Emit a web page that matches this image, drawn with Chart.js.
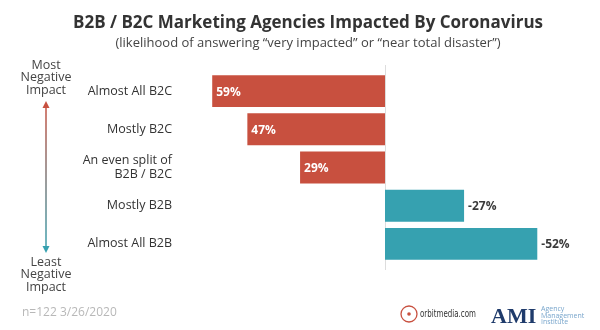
<!DOCTYPE html>
<html>
<head>
<meta charset="utf-8">
<script src="https://cdn.jsdelivr.net/npm/chart.js@4.4.1/dist/chart.umd.min.js"></script>
<style>
  html, body { margin: 0; padding: 0; background: #ffffff; }
  #wrap { width: 600px; height: 330px; }
</style>
</head>
<body>
<div id="wrap"><canvas id="chart" width="600" height="330"></canvas></div>
<script>
// Agency mix categories, top (most negative) to bottom (least negative)
const categories = [
  'Almost All B2C',
  'Mostly B2C',
  ['An even split of', 'B2B / B2C'],
  'Mostly B2B',
  'Almost All B2B'
];
// Share answering "very impacted" or "near total disaster", relative score
const impactValues = [59, 47, 29, -27, -52];

const titleText = 'B2B / B2C Marketing Agencies Impacted By Coronavirus';
const subtitleText = '(likelihood of answering \u201cvery impacted\u201d or \u201cnear total disaster\u201d)';
const topNote = ['Most', 'Negative', 'Impact'];
const bottomNote = ['Least', 'Negative', 'Impact'];
const footnote = 'n=122 3/26/2020';

const RED = '#c8503f';
const TEAL = '#36a1b0';
const FONT = '"Open Sans", "DejaVu Sans", sans-serif';

const decorations = {
  id: 'decorations',
  beforeDatasetsDraw(chart) {
    const ctx = chart.ctx;
    const x0 = chart.scales.x.getPixelForValue(0);
    ctx.save();
    ctx.strokeStyle = '#dddddd';
    ctx.lineWidth = 1;
    ctx.beginPath();
    ctx.moveTo(Math.round(x0) + 0.5, chart.chartArea.top - 7);
    ctx.lineTo(Math.round(x0) + 0.5, chart.chartArea.bottom + 7);
    ctx.stroke();
    ctx.restore();
  },
  afterDatasetsDraw(chart) {
    const ctx = chart.ctx;
    const meta = chart.getDatasetMeta(0);
    ctx.save();
    ctx.font = 'bold 12px ' + FONT;
    ctx.textBaseline = 'middle';
    ctx.textAlign = 'left';
    meta.data.forEach((bar, i) => {
      const v = impactValues[i];
      // positive bars carry their label inside, negative ones just past the end
      ctx.fillStyle = v > 0 ? '#ffffff' : '#3a3a3a';
      ctx.fillText(v + '%', bar.x + 4, bar.y + 1);
    });
    ctx.restore();
  },
  afterDraw(chart) {
    const ctx = chart.ctx;
    ctx.save();
    // Title and subtitle
    ctx.textAlign = 'center';
    ctx.textBaseline = 'alphabetic';
    ctx.fillStyle = '#333333';
    ctx.font = 'bold 17px ' + FONT;
    ctx.fillText(titleText, 308, 28);
    ctx.fillStyle = '#444444';
    ctx.font = '13px ' + FONT;
    ctx.fillText(subtitleText, 308, 47);

    // Impact direction notes
    ctx.font = '12.5px ' + FONT;
    ctx.fillStyle = '#444444';
    ctx.textBaseline = 'middle';
    topNote.forEach((t, i) => ctx.fillText(t, 46, 65 + i * 12.6));
    bottomNote.forEach((t, i) => ctx.fillText(t, 46, 262 + i * 12.6));

    // Double-headed arrow, red (top) fading to teal (bottom)
    const grad = ctx.createLinearGradient(0, 102, 0, 252);
    grad.addColorStop(0, RED);
    grad.addColorStop(1, TEAL);
    ctx.strokeStyle = grad;
    ctx.lineWidth = 1.5;
    ctx.beginPath();
    ctx.moveTo(46, 106);
    ctx.lineTo(46, 248);
    ctx.stroke();
    ctx.fillStyle = RED;
    ctx.beginPath();
    ctx.moveTo(46, 101);
    ctx.lineTo(49.5, 108);
    ctx.lineTo(42.5, 108);
    ctx.closePath();
    ctx.fill();
    ctx.fillStyle = TEAL;
    ctx.beginPath();
    ctx.moveTo(46, 253);
    ctx.lineTo(49.5, 246);
    ctx.lineTo(42.5, 246);
    ctx.closePath();
    ctx.fill();

    // Footer
    ctx.textAlign = 'left';
    ctx.fillStyle = '#b8b8b8';
    ctx.font = '12px ' + FONT;
    ctx.fillText(footnote, 22, 313);

    // orbitmedia mark
    ctx.strokeStyle = RED;
    ctx.lineWidth = 1.3;
    ctx.beginPath();
    ctx.arc(409, 314, 8, 0, Math.PI * 2);
    ctx.stroke();
    ctx.fillStyle = RED;
    ctx.beginPath();
    ctx.arc(409, 314, 1.8, 0, Math.PI * 2);
    ctx.fill();
    ctx.fillStyle = '#333333';
    ctx.font = '10px "Liberation Sans Narrow", "DejaVu Sans Condensed", sans-serif';
    ctx.fillText('orbitmedia.com', 420, 314, 56);

    // AMI mark
    ctx.fillStyle = '#1f3b6b';
    ctx.font = 'bold 22px "Liberation Serif", "DejaVu Serif", serif';
    ctx.textBaseline = 'alphabetic';
    ctx.fillText('AMI', 491, 323);
    ctx.fillStyle = '#79a6cc';
    ctx.font = '7px ' + FONT;
    ctx.fillText('Agency', 541, 311);
    ctx.fillText('Management', 541, 317.5);
    ctx.fillText('Institute', 541, 324);
    ctx.restore();
  }
};

new Chart(document.getElementById('chart'), {
  type: 'bar',
  data: {
    labels: categories,
    datasets: [{
      data: impactValues,
      backgroundColor: impactValues.map(v => (v > 0 ? RED : TEAL)),
      borderWidth: 0,
      barPercentage: 0.835,
      categoryPercentage: 1
    }]
  },
  options: {
    indexAxis: 'y',
    responsive: false,
    animation: false,
    devicePixelRatio: 1,
    layout: { padding: { top: 72, bottom: 67, left: 0, right: 10 } },
    plugins: {
      legend: { display: false },
      title: { display: false },
      tooltip: { enabled: false }
    },
    scales: {
      x: {
        type: 'linear',
        reverse: true,
        min: -70,
        max: 70,
        display: false
      },
      y: {
        grid: { display: false, drawTicks: false },
        border: { display: false },
        ticks: {
          color: '#333333',
          padding: 8,
          font: { family: FONT, size: 12.5, lineHeight: 1.08 }
        },
        afterFit(scale) { scale.width = 180; }
      }
    }
  },
  plugins: [decorations]
});
</script>
</body>
</html>
